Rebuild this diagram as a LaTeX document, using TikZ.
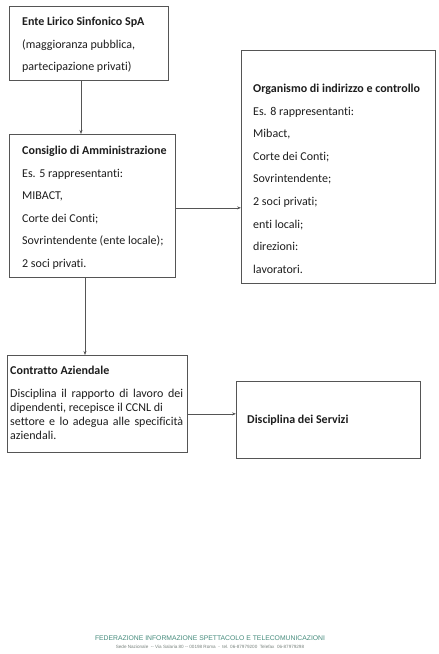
\documentclass[tikz,border=0pt]{standalone}
\usepackage{fontspec}
\setmainfont{Carlito}[Ligatures=NoCommon]
\newfontfamily\footfont{Liberation Sans}
\usetikzlibrary{arrows.meta}
\definecolor{boxline}{RGB}{85,85,85}
\definecolor{txt}{RGB}{30,30,30}
\definecolor{footgreen}{RGB}{70,140,125}
\definecolor{footgray}{RGB}{120,130,125}
\tikzset{
  box/.style={draw=boxline, line width=0.7pt, anchor=north west, inner sep=0pt},
  lbl/.style={anchor=base west, inner sep=0pt, text=txt, font=\fontsize{12}{14}\selectfont},
  ttl/.style={lbl, font=\fontsize{12}{14}\selectfont\bfseries},
  arr/.style={draw=boxline, line width=0.7pt, -{Stealth[length=4pt,width=3pt]}},
  foot/.style={inner sep=0pt, anchor=base}
}
\begin{document}
\begin{tikzpicture}[x=1pt,y=-1pt]
\useasboundingbox[fill=white] (0,0) rectangle (439,654);
% boxes
\node[box, minimum width=159pt, minimum height=74pt] (b1) at (9,6) {};
\node[box, minimum width=166pt, minimum height=143pt] (b2) at (9,134) {};
\node[box, minimum width=194pt, minimum height=233pt] (b3) at (241,50) {};
\node[box, minimum width=180pt, minimum height=97pt] (b4) at (7,355) {};
\node[box, minimum width=184pt, minimum height=77pt] (b5) at (236,381) {};
% box 1 text
\node[ttl] (t1a) at (22,25) {Ente Lirico Sinfonico SpA};
\node[lbl] (t1b) at (22,48) {(maggioranza pubblica,};
\node[lbl] (t1c) at (22,70) {partecipazione privati)};
% box 2 text
\node[ttl] (t2a) at (22,154) {Consiglio di Amministrazione};
\node[lbl] (t2b) at (22,177) {Es. 5 rappresentanti:};
\node[lbl] (t2c) at (22,199) {MIBACT,};
\node[lbl] (t2d) at (22,222) {Corte dei Conti;};
\node[lbl] (t2e) at (22,244) {Sovrintendente (ente locale);};
\node[lbl] (t2f) at (22,267) {2 soci privati.};
% box 3 text
\node[ttl] (t3a) at (253,92) {Organismo di indirizzo e controllo};
\node[lbl] (t3b) at (253,115) {Es. 8 rappresentanti:};
\node[lbl] (t3c) at (253,137) {Mibact,};
\node[lbl] (t3d) at (253,160) {Corte dei Conti;};
\node[lbl] (t3e) at (253,182) {Sovrintendente;};
\node[lbl] (t3f) at (253,205) {2 soci privati;};
\node[lbl] (t3g) at (253,228) {enti locali;};
\node[lbl] (t3h) at (253,250) {direzioni:};
\node[lbl] (t3i) at (253,273) {lavoratori.};
% box 4 text
\node[ttl] (t4a) at (10,374) {Contratto Aziendale};
\node[lbl] (t4b) at (10,397) {\makebox[173pt][s]{Disciplina il rapporto di lavoro dei}};
\node[lbl] (t4c) at (10,411) {dipendenti, recepisce il CCNL di};
\node[lbl] (t4d) at (10,425) {\makebox[173pt][s]{settore e lo adegua alle specificità}};
\node[lbl] (t4e) at (10,439) {aziendali.};
% box 5 text
\node[ttl] (t5a) at (247,423) {Disciplina dei Servizi};
% connectors
\draw[arr] ([xshift=72pt]b1.south west) -- ([xshift=72pt]b2.north west);
\draw[arr] ([yshift=-2pt]b2.east) -- ([yshift=-2pt]b2.east -| b3.west);
\draw[arr] ([xshift=76pt]b2.south west) -- ([xshift=76pt]b2.south west |- b4.north);
\draw[arr] ([yshift=-10pt]b4.east) -- ([yshift=-10pt]b4.east -| b5.west);
% footer
\node[foot, text=footgreen, font=\footfont\fontsize{6.8}{8}\selectfont] (f1) at (210,640) {FEDERAZIONE INFORMAZIONE SPETTACOLO E TELECOMUNICAZIONI};
\node[foot, text=footgray, font=\footfont\fontsize{4.6}{6}\selectfont] (f2) at (210,648) {Sede Nazionale \ -- Via Salaria 80 -- 00198 Roma \ - \ tel. 06-87979200 \ Telefax \ 06-87979298};
\end{tikzpicture}
\end{document}
